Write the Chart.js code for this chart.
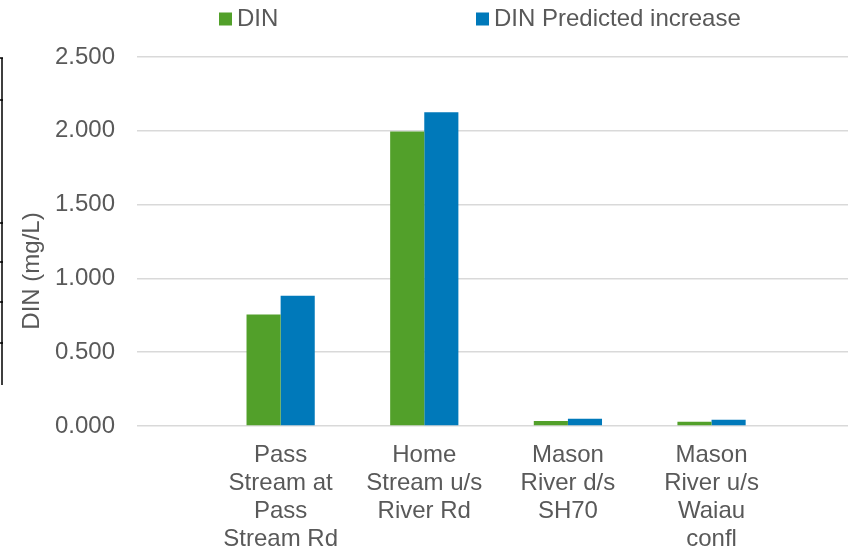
<!DOCTYPE html>
<html>
<head>
<meta charset="utf-8">
<script src="https://cdn.jsdelivr.net/npm/chart.js@4"></script>
<style>
  html, body { margin: 0; padding: 0; background: #fff; overflow: hidden; }
</style>
</head>
<body>
<canvas id="dinChart" width="848" height="547"></canvas>
<script>
// === DATA ===
const categories = [
  ['Pass', 'Stream at', 'Pass', 'Stream Rd'],
  ['Home', 'Stream u/s', 'River Rd'],
  ['Mason', 'River d/s', 'SH70'],
  ['Mason', 'River u/s', 'Waiau', 'confl']
];
const dinValues = [0.755, 1.995, 0.034, 0.029];
const predictedValues = [0.883, 2.125, 0.049, 0.043];
const yTicks = [0, 0.5, 1.0, 1.5, 2.0, 2.5];
const seriesNames = ['DIN', 'DIN Predicted increase'];
const yTitle = 'DIN (mg/L)';

// === STYLE ===
const FONT = "'Liberation Sans', Arial, sans-serif";
const TEXT = '#595959';
const COLORS = ['#52A02A', '#0079BA'];

Chart.defaults.font.family = FONT;
Chart.defaults.font.size = 24;
Chart.defaults.color = TEXT;

// legend drawn by hand, Excel spaces the items very wide
const legendPlugin = {
  id: 'manualLegend',
  afterDraw(chart) {
    const ctx = chart.ctx;
    const xs = [219, 476];
    const y = 19;
    ctx.save();
    ctx.font = '24px ' + FONT;
    ctx.textBaseline = 'middle';
    ctx.textAlign = 'left';
    chart.data.datasets.forEach((ds, i) => {
      ctx.fillStyle = ds.backgroundColor;
      ctx.fillRect(xs[i], y - 6.5, 13, 13);
      ctx.fillStyle = TEXT;
      ctx.fillText(ds.label, xs[i] + 18, y);
    });
    ctx.restore();
  }
};

// axis title sits lower than the plot centre in the original
const yTitlePlugin = {
  id: 'yTitle',
  afterDraw(chart) {
    const ctx = chart.ctx;
    ctx.save();
    ctx.translate(39, 271);
    ctx.rotate(-Math.PI / 2);
    ctx.font = '24px ' + FONT;
    ctx.fillStyle = TEXT;
    ctx.textAlign = 'center';
    ctx.textBaseline = 'alphabetic';
    ctx.fillText(yTitle, 0, 0);
    ctx.restore();
  }
};

// bit of a neighbouring border at the left edge of the crop
const edgePlugin = {
  id: 'edge',
  afterDraw(chart) {
    const ctx = chart.ctx;
    ctx.save();
    ctx.strokeStyle = '#000';
    ctx.lineWidth = 1.5;
    ctx.beginPath();
    ctx.moveTo(2, 58);
    ctx.lineTo(2, 385);
    [58, 100, 223, 262, 302, 343].forEach(y => {
      ctx.moveTo(0, y);
      ctx.lineTo(3, y);
    });
    ctx.stroke();
    ctx.restore();
  }
};

// === CHART ===
new Chart(document.getElementById('dinChart'), {
  type: 'bar',
  data: {
    datasets: [
      {
        label: seriesNames[0],
        data: dinValues.map((v, i) => ({ x: i, y: v })),
        backgroundColor: COLORS[0]
      },
      {
        label: seriesNames[1],
        data: predictedValues.map((v, i) => ({ x: i, y: v })),
        backgroundColor: COLORS[1]
      }
    ]
  },
  options: {
    responsive: false,
    animation: false,
    layout: { padding: { top: 57, left: 0, right: 0, bottom: 0 } },
    datasets: { bar: { barPercentage: 1, categoryPercentage: 0.475, borderWidth: 0 } },
    plugins: {
      legend: { display: false },
      tooltip: { enabled: false }
    },
    scales: {
      x: {
        type: 'linear',
        min: -1,
        max: 3.95,
        offset: false,
        afterBuildTicks: s => { s.ticks = categories.map((c, i) => ({ value: i })); },
        afterFit: s => { s.height = 121; },
        grid: { display: false, offset: false },
        border: { display: false },
        ticks: {
          padding: 8,
          maxRotation: 0,
          autoSkip: false,
          font: { size: 24, lineHeight: 1.155 },
          callback: v => categories[v] || ''
        }
      },
      y: {
        min: 0,
        max: 2.5,
        afterBuildTicks: s => { s.ticks = yTicks.map(v => ({ value: v })); },
        afterFit: s => { s.width = 137; },
        grid: { color: '#d9d9d9', lineWidth: 1.5, drawTicks: false },
        border: { display: false },
        ticks: { padding: 22, callback: v => v.toFixed(3) }
      }
    }
  },
  plugins: [legendPlugin, yTitlePlugin, edgePlugin]
});
</script>
</body>
</html>
